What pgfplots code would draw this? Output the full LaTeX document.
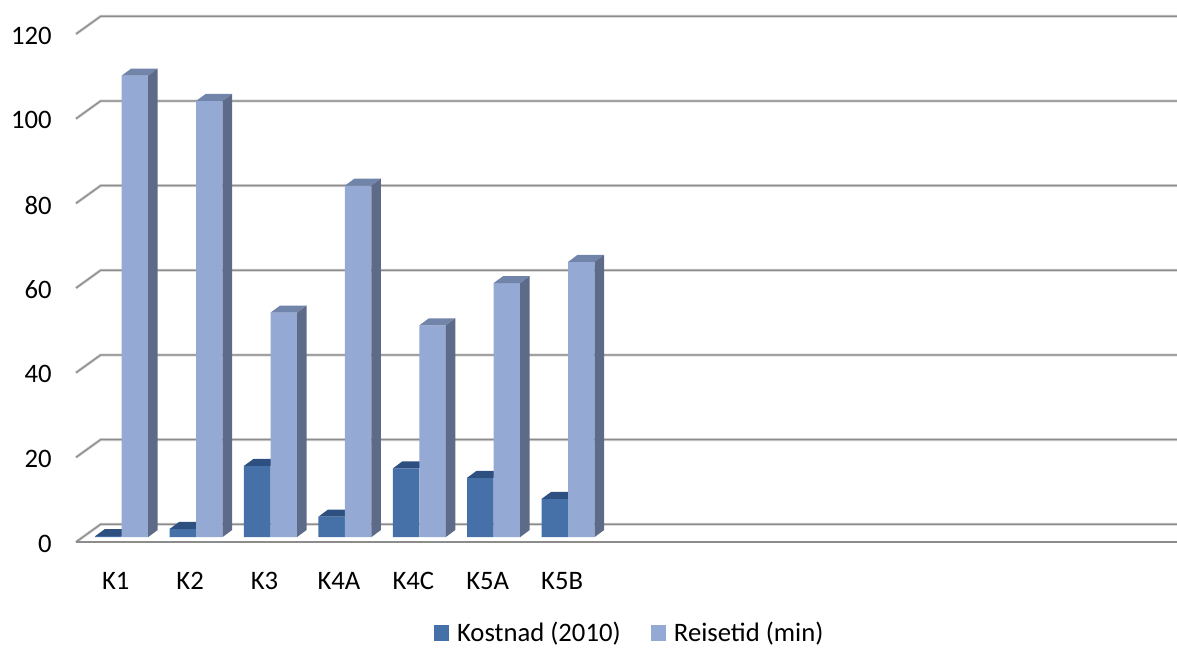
\documentclass[border=0pt]{standalone}
\usepackage{fontspec}
\setmainfont{Carlito}
\usepackage{pgfplots}
\usepackage{pgfplotstable}
\pgfplotsset{compat=1.18}

\definecolor{darkfront}{HTML}{4571A8}
\definecolor{darktop}{HTML}{2D5080}
\definecolor{lightfront}{HTML}{94A9D3}
\definecolor{lighttop}{HTML}{7184AA}
\definecolor{lightside}{HTML}{5D6B88}
\definecolor{gridout}{HTML}{CACACA}
\definecolor{gridin}{HTML}{8C8C8C}

\pgfplotstableread{
cat  kost reise
K1   0.2  109
K2   1.9  103
K3   16.8 53
K4A  4.8  83
K4C  16.2 50
K5A  14   60
K5B  9    65
}\datatable

\newcommand{\bigfont}{\fontsize{20}{24}\selectfont}

\begin{document}
\begin{tikzpicture}
\begin{axis}[
    x=55.8pt, y=3.175pt,
    xmin=-1.1358, xmax=14.6841,
    ymin=-25.986, ymax=126.86,
    enlargelimits=false,
    axis line style={draw=none},
    tick style={draw=none},
    ybar=0pt, bar width=19.9pt,
    xtick={0.5,1.5,...,6.5},
    xticklabels from table={\datatable}{cat},
    xticklabel style={anchor=center, xshift=-4.5pt, yshift=54pt, font=\bigfont},
    ytick={0,20,...,120},
    yticklabel style={anchor=east, inner sep=0pt, xshift=39pt, yshift=-5pt, font=\bigfont},
    /pgf/number format/assume math mode=true,
    legend columns=2,
    legend style={at={(rel axis cs:0.5352,0.0215)}, anchor=center, draw=none, fill=none,
        font=\bigfont, nodes={inner xsep=2pt, inner ysep=0pt},
        /tikz/every odd column/.append style={column sep=0pt},
        /tikz/every even column/.append style={column sep=20.5pt}},
    legend image code/.code={\fill[#1] (0pt,-5.8pt) rectangle (11.5pt,5.8pt);
        \path (15.5pt,0pt);},
]

\coordinate (bbSW) at (rel axis cs:0,0);
\coordinate (bbNE) at (rel axis cs:1,1);

% back wall gridlines and floor
\pgfplotsinvokeforeach{0,20,...,120}{
  \draw[draw=gridout, double=gridin, double distance=0.9pt, line width=0.6pt]
    ([xshift=-6.4pt,yshift=-3.75pt]axis cs:0,#1) --
    ([xshift=12.1pt,yshift=9.55pt]axis cs:0,#1) --
    ([yshift=9.55pt]axis cs:14.6841,#1);
}
\draw[draw=gridout, double=gridin, double distance=0.9pt, line width=0.6pt]
    ([xshift=-6.4pt,yshift=-3.75pt]axis cs:0,0) -- ([yshift=-3.75pt]axis cs:14.6841,0);

\addplot[fill=darkfront, draw=none] table[x expr=\coordindex+0.5, y=kost] {\datatable};
\addlegendentry{Kostnad (2010)}

\foreach \i in {0,...,6}{
  \pgfplotstablegetelem{\i}{kost}\of\datatable
  \let\vk\pgfplotsretval
  \pgfmathsetmacro\c{\i+0.5}
  \edef\tmp{\noexpand\fill[darktop]
    ([xshift=-19.9pt]axis cs:\c,\vk) -- (axis cs:\c,\vk) --
    ([xshift=7.1pt,yshift=5.25pt]axis cs:\c,\vk) --
    ([xshift=-12.8pt,yshift=5.25pt]axis cs:\c,\vk) -- cycle;}
  \tmp
}

\addplot[fill=lightfront, draw=none] table[x expr=\coordindex+0.5, y=reise] {\datatable};
\addlegendentry{Reisetid (min)}

\foreach \i in {0,...,6}{
  \pgfplotstablegetelem{\i}{reise}\of\datatable
  \let\vr\pgfplotsretval
  \pgfmathsetmacro\c{\i+0.5}
  \edef\tmp{\noexpand\fill[lighttop]
    (axis cs:\c,\vr) -- ([xshift=19.9pt]axis cs:\c,\vr) --
    ([xshift=27pt,yshift=5.25pt]axis cs:\c,\vr) --
    ([xshift=7.1pt,yshift=5.25pt]axis cs:\c,\vr) -- cycle;
    \noexpand\fill[lightside]
    ([xshift=19.9pt]axis cs:\c,0) -- ([xshift=19.9pt]axis cs:\c,\vr) --
    ([xshift=27pt,yshift=5.25pt]axis cs:\c,\vr) --
    ([xshift=27pt,yshift=5.25pt]axis cs:\c,0) -- cycle;}
  \tmp
}

\end{axis}
\pgfresetboundingbox
\path[use as bounding box] (bbSW) rectangle (bbNE);
\end{tikzpicture}
\end{document}
